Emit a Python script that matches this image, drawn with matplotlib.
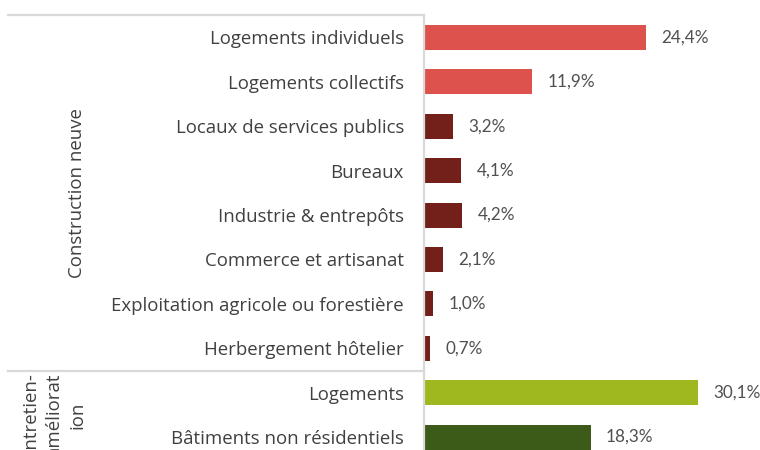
import numpy as np
import matplotlib.pyplot as plt
from matplotlib import transforms

categories = [
    "Logements individuels",
    "Logements collectifs",
    "Locaux de services publics",
    "Bureaux",
    "Industrie & entrepôts",
    "Commerce et artisanat",
    "Exploitation agricole ou forestière",
    "Herbergement hôtelier",
    "Logements",
    "Bâtiments non résidentiels",
]
values = [24.4, 11.9, 3.2, 4.1, 4.2, 2.1, 1.0, 0.7, 30.1, 18.3]
labels = ["24,4%", "11,9%", "3,2%", "4,1%", "4,2%", "2,1%", "1,0%", "0,7%", "30,1%", "18,3%"]
colors = ["#DD524C", "#DD524C"] + ["#74201A"] * 6 + ["#A0B820", "#3D5B18"]
groups = ["Construction neuve", "Entretien-\naméliorat\nion"]
group_rows = [(0, 7), (8, 9)]

text_col = "#404040"
line_col = "#D9D9D9"

fig = plt.figure(figsize=(7.6, 4.5), dpi=100)
W, H = 760, 450
ax_left, ax_right = 424, 760
ax_top, ax_bot = 15.3, 459.3
ax = fig.add_axes([ax_left / W, 1 - ax_bot / H, (ax_right - ax_left) / W, (ax_bot - ax_top) / H])

y = np.arange(len(categories))
ax.barh(y, values, height=0.56, color=colors)
ax.set_ylim(len(categories) - 0.5, -0.5)
ax.set_xlim(0, 36.9)

ax.set_yticks(y)
ax.set_yticklabels(categories, family="Open Sans", fontsize=13.4, color=text_col)
ax.tick_params(axis="y", length=0, pad=14.4)
ax.set_xticks([])
for s in ["top", "right", "bottom"]:
    ax.spines[s].set_visible(False)
ax.spines["left"].set_color(line_col)
ax.spines["left"].set_linewidth(1.6)

for yi, v, lab in zip(y, values, labels):
    ax.annotate(lab, (v, yi), xytext=(11, 0), textcoords="offset points",
                va="center", ha="left", family="Lato",
                fontsize=12.3, color="#505050")

# group separator lines, like a multi-level category axis
tr = transforms.blended_transform_factory(ax.transAxes, ax.transData)
x0 = (8 - ax_left) / (ax_right - ax_left)
for yb in [-0.5, 7.5]:
    ax.plot([x0, 0], [yb, yb], transform=tr, color=line_col, lw=1.6, clip_on=False)

gx = [(77 - ax_left) / (ax_right - ax_left), (54 - ax_left) / (ax_right - ax_left)]
for g, (a, b), xg in zip(groups, group_rows, gx):
    ax.text(xg, (a + b) / 2, g, transform=tr, rotation=90, ha="center", va="center",
            multialignment="center", family="Open Sans", fontsize=13.4,
            color=text_col, linespacing=1.42)

fig.savefig("out.png", dpi=100)
